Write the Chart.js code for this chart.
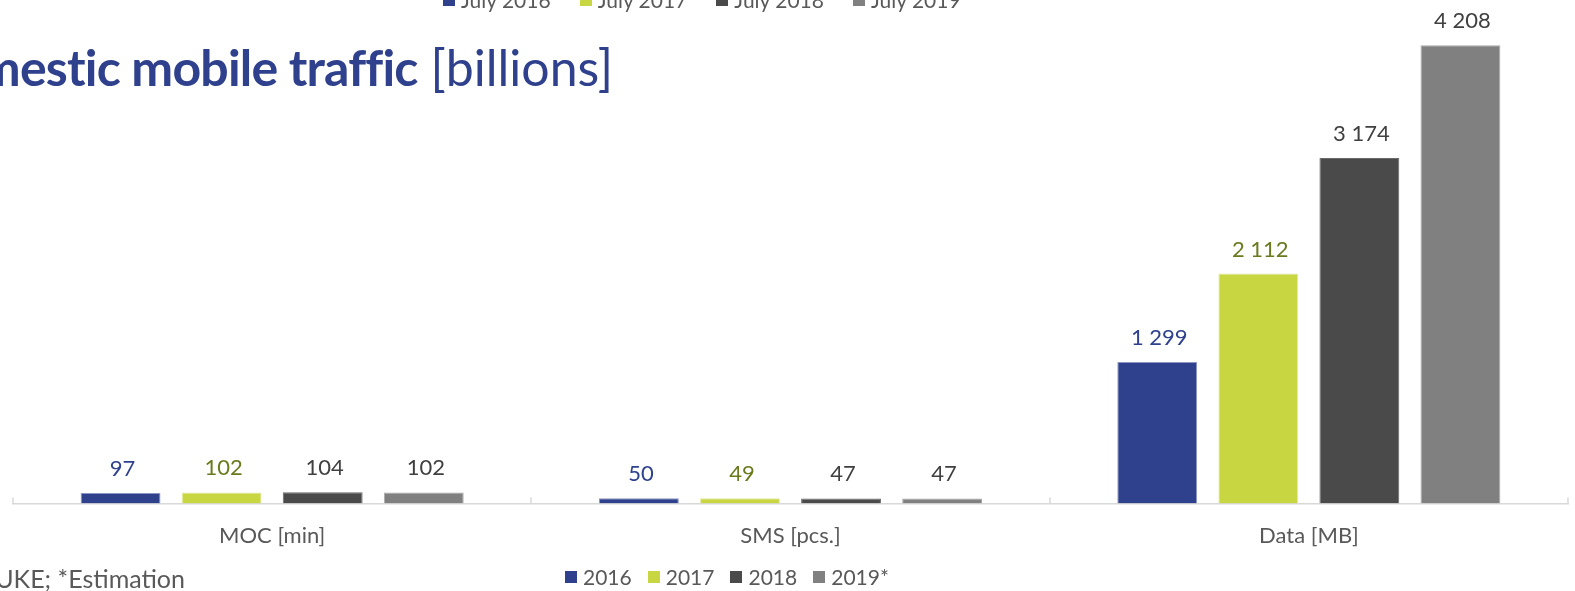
<!DOCTYPE html>
<html>
<head>
<meta charset="utf-8">
<title>Domestic mobile traffic</title>
<script src="https://cdn.jsdelivr.net/npm/chart.js@4/dist/chart.umd.min.js"></script>
<style>
    body { margin: 0; background: #fff; font-family: Lato, sans-serif; }
    #slide { position: relative; width: 1575px; height: 591px; overflow: hidden; }
    #grafica { position: absolute; left: 0; top: 0; }
    .titulo { position: absolute; right: 962px; top: 37px; white-space: nowrap; color: #2F418C; font-size: 50px; }
    .titulo b { font-weight: 700; letter-spacing: -0.8px; }
    .fuente { position: absolute; right: 1390px; top: 563px; white-space: nowrap; color: #595959; font-size: 25px; }
    .leyenda { position: absolute; display: flex; white-space: nowrap; color: #595959; font-size: 21px; }
    .leyenda span { display: inline-flex; align-items: center; }
    .leyenda i { display: inline-block; width: 12px; height: 12px; margin-right: 6px; }
</style>
</head>
<body>
<div id="slide">
    <canvas id="grafica" width="1575" height="591"></canvas>
    <div class="leyenda" id="leyenda-arriba" style="left:443px; top:-13px;"></div>
    <div class="titulo"><b>Domestic mobile traffic</b> [billions]</div>
    <div class="fuente">Source: UKE; *Estimation</div>
    <div class="leyenda" id="leyenda-abajo" style="left:565px; top:564px;"></div>
</div>
<script>
// Categorías y series
const categorias = ['MOC [min]', 'SMS [pcs.]', 'Data [MB]'];
const anios = ['2016', '2017', '2018', '2019*'];
const valores2016 = [97, 50, 1299];
const valores2017 = [102, 49, 2112];
const valores2018 = [104, 47, 3174];
const valores2019 = [102, 47, 4208];
const aniosJulio = ['July 2016', 'July 2017', 'July 2018', 'July 2019'];

const coloresBarra = ['#2F418C', '#C8D642', '#4A4A4A', '#808080'];
const coloresBorde = ['#8C95C4', '#E4EBA6', '#6A6A6A', '#A8A8A8'];
const coloresEtiqueta = ['#2F418C', '#6B7A1F', '#404040', '#404040'];

// Formato con espacio como separador de miles
const formatear = v => String(v).replace(/\B(?=(\d{3})+(?!\d))/g, ' ');

// Leyendas en HTML
function pintarLeyenda(id, textos, gap) {
    const cont = document.getElementById(id);
    textos.forEach((t, i) => {
        const item = document.createElement('span');
        item.style.marginRight = i < textos.length - 1 ? gap + 'px' : '0';
        item.innerHTML = `<i style="background:${coloresBarra[i]}"></i>${t}`;
        cont.appendChild(item);
    });
}
pintarLeyenda('leyenda-arriba', aniosJulio, 29);
pintarLeyenda('leyenda-abajo', anios, 16);

// Etiquetas de valor encima de cada barra
const etiquetasValor = {
    id: 'etiquetasValor',
    afterDatasetsDraw(chart) {
        const ctx = chart.ctx;
        ctx.save();
        ctx.font = '22px Lato';
        ctx.textAlign = 'center';
        ctx.textBaseline = 'alphabetic';
        chart.data.datasets.forEach((ds, i) => {
            ctx.fillStyle = coloresEtiqueta[i];
            chart.getDatasetMeta(i).data.forEach((barra, j) => {
                ctx.fillText(formatear(ds.data[j]), barra.x + 2, barra.y - 17);
            });
        });
        ctx.restore();
    }
};

// Marcas cortas entre categorías sobre el eje
const marcasEje = {
    id: 'marcasEje',
    afterDraw(chart) {
        const x = chart.scales.x;
        const ctx = chart.ctx;
        ctx.save();
        ctx.strokeStyle = '#D9D9D9';
        ctx.lineWidth = 1.5;
        for (let i = 0; i <= categorias.length; i++) {
            const px = Math.round(x.getPixelForValue(i - 0.5));
            ctx.beginPath();
            ctx.moveTo(px, x.top);
            ctx.lineTo(px, x.top - 6);
            ctx.stroke();
        }
        ctx.restore();
    }
};

const series = [valores2016, valores2017, valores2018, valores2019];

new Chart(document.getElementById('grafica'), {
    type: 'bar',
    data: {
        labels: categorias,
        datasets: series.map((d, i) => ({
            label: anios[i],
            data: d,
            backgroundColor: coloresBarra[i],
            borderColor: coloresBorde[i],
            borderWidth: 1,
            categoryPercentage: 0.78,
            barPercentage: 0.79,
        })),
    },
    options: {
        responsive: false,
        animation: false,
        layout: { padding: { left: 13, right: 7, top: 13.5, bottom: 23 } },
        plugins: {
            legend: { display: false },
            tooltip: { enabled: false },
        },
        scales: {
            x: {
                grid: { display: true, drawOnChartArea: false, drawTicks: false },
                border: { display: true, color: '#D9D9D9', width: 1.5 },
                ticks: { color: '#595959', font: { family: 'Lato', size: 22 }, padding: 19 },
            },
            y: {
                display: false,
                min: 0,
                max: 4500,
            },
        },
    },
    plugins: [etiquetasValor, marcasEje],
});
</script>
</body>
</html>
